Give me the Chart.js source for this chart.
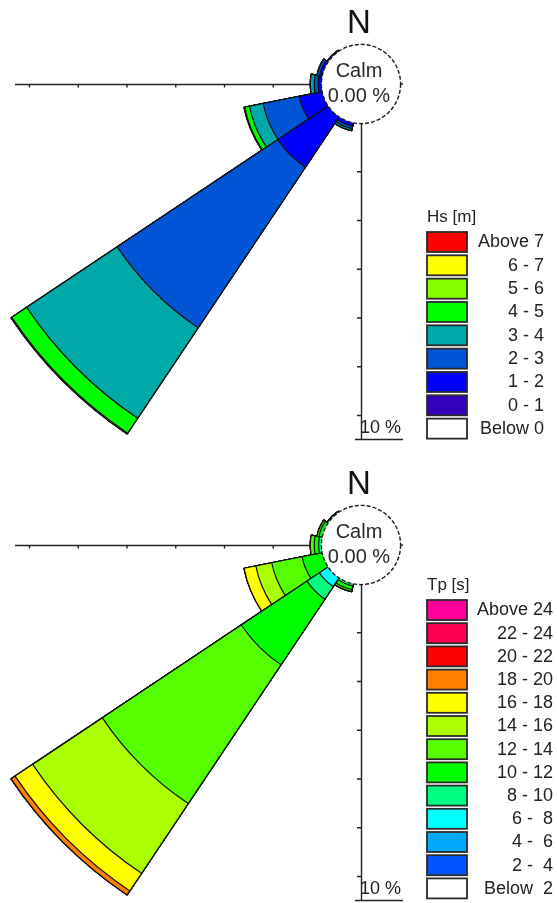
<!DOCTYPE html>
<html>
<head>
<meta charset="utf-8">
<script src="https://cdn.jsdelivr.net/npm/chart.js@4.4.1/dist/chart.umd.min.js"></script>
<style>
  html, body { margin: 0; padding: 0; background: #ffffff; overflow: hidden; }
  #wrap { position: relative; width: 557px; height: 903px; }
  canvas { position: absolute; left: 0; display: block; }
  #hsRose { top: 0; }
  #tpRose { top: 461px; }
</style>
</head>
<body>
<div id="wrap">
  <canvas id="hsRose" width="557" height="461"></canvas>
  <canvas id="tpRose" width="557" height="442"></canvas>
</div>
<script>
// ---------- DATA ----------
// 16 direction sectors (clockwise from North)
const directions = ['N','NNE','NE','ENE','E','ESE','SE','SSE','S','SSW','SW','WSW','W','WNW','NW','NNW'];

// Ring tick values (%) on the W and S axes, and the axis label
const ringTicks = [1.5, 3, 4.5, 6, 7.5, 9];
const axisLabel = '10 %';
const calmText = ['Calm', '0.00 %'];

// ---- Significant wave height Hs [m] : frequency (%) per direction, lowest class first
const hsTitle = 'Hs [m]';
const hsClasses = ['Below 0', '0 - 1', '1 - 2', '2 - 3', '3 - 4', '4 - 5', '5 - 6', '6 - 7', 'Above 7'];
const hsColors  = ['#FFFFFF', '#3300BB', '#0000FF', '#0055D5', '#00A8A8', '#00FF00', '#88FF00', '#FFFF00', '#FF0000'];
//                 N  NNE NE ENE E ESE SE SSE S  SSW   SW    WSW   W     WNW   NW    NNW
const hsBelow0 = [0, 0,  0, 0,  0, 0,  0, 0,  0, 0,    0,    0,    0,    0,    0,    0];
const hs0_1    = [0, 0,  0, 0,  0, 0,  0, 0,  0, 0,    0,    0,    0,    0,    0,    0];
const hs1_2    = [0, 0,  0, 0,  0, 0,  0, 0,  0, 0.12, 1.88, 0.74, 0.12, 0.10, 0.05, 0];
const hs2_3    = [0, 0,  0, 0,  0, 0,  0, 0,  0, 0.08, 5.94, 1.13, 0.12, 0.08, 0,    0];
const hs3_4    = [0, 0,  0, 0,  0, 0,  0, 0,  0, 0.06, 3.35, 0.43, 0.12, 0,    0,    0];
const hs4_5    = [0, 0,  0, 0,  0, 0,  0, 0,  0, 0,    0.55, 0.15, 0,    0,    0,    0];
const hs5_6    = [0, 0,  0, 0,  0, 0,  0, 0,  0, 0,    0.03, 0.02, 0,    0,    0,    0];
const hs6_7    = [0, 0,  0, 0,  0, 0,  0, 0,  0, 0,    0,    0,    0,    0,    0,    0];
const hsAbove7 = [0, 0,  0, 0,  0, 0,  0, 0,  0, 0,    0,    0,    0,    0,    0,    0];

// ---- Peak wave period Tp [s] : frequency (%) per direction, lowest class first
const tpTitle = 'Tp [s]';
const tpClasses = ['Below  2', '2 -  4', '4 -  6', '6 -  8', '8 - 10', '10 - 12', '12 - 14', '14 - 16', '16 - 18', '18 - 20', '20 - 22', '22 - 24', 'Above 24'];
const tpColors  = ['#FFFFFF', '#0055FF', '#00AAFF', '#00FFFF', '#00FF80', '#00FF00', '#55FF00', '#AAFF00', '#FFFF00', '#FF8000', '#FF0000', '#FF0050', '#FF0099'];
//                 N  NNE NE ENE E ESE SE SSE S  SSW   SW    WSW   W     WNW   NW    NNW
const tpBelow2 = [0, 0,  0, 0,  0, 0,  0, 0,  0, 0,    0,    0,    0,    0,    0,    0];
const tp2_4    = [0, 0,  0, 0,  0, 0,  0, 0,  0, 0,    0,    0,    0,    0,    0,    0];
const tp4_6    = [0, 0,  0, 0,  0, 0,  0, 0,  0, 0,    0,    0,    0,    0,    0,    0];
const tp6_8    = [0, 0,  0, 0,  0, 0,  0, 0,  0, 0,    0.34, 0,    0,    0,    0,    0];
const tp8_10   = [0, 0,  0, 0,  0, 0,  0, 0,  0, 0.08, 0.46, 0,    0.10, 0,    0,    0];
const tp10_12  = [0, 0,  0, 0,  0, 0,  0, 0,  0, 0.12, 2.43, 0.65, 0.14, 0.12, 0.05, 0];
const tp12_14  = [0, 0,  0, 0,  0, 0,  0, 0,  0, 0.06, 5.14, 0.95, 0.12, 0.06, 0,    0];
const tp14_16  = [0, 0,  0, 0,  0, 0,  0, 0,  0, 0,    2.58, 0.50, 0,    0,    0,    0];
const tp16_18  = [0, 0,  0, 0,  0, 0,  0, 0,  0, 0,    0.65, 0.37, 0,    0,    0,    0];
const tp18_20  = [0, 0,  0, 0,  0, 0,  0, 0,  0, 0,    0.15, 0,    0,    0,    0,    0];
const tp20_22  = [0, 0,  0, 0,  0, 0,  0, 0,  0, 0,    0,    0,    0,    0,    0,    0];
const tp22_24  = [0, 0,  0, 0,  0, 0,  0, 0,  0, 0,    0,    0,    0,    0,    0,    0];
const tpAbove24= [0, 0,  0, 0,  0, 0,  0, 0,  0, 0,    0,    0,    0,    0,    0,    0];

// ---------- LAYOUT / STYLE ----------
const CENTER_X = 361, CENTER_Y = 84;   // rose centre inside each canvas
const CALM_R = 39;                     // calm circle radius (px)
const PX_PER_PCT = 32.5;               // radial scale
const DRAW_R = 500;                    // scale drawing radius (px)
const WEST_AXIS_LEN = 346, SOUTH_AXIS_LEN = 355;
const FONT = '"Liberation Sans", Arial, Helvetica, sans-serif';

const rosePlugin = {
  id: 'rose',
  beforeDatasetsDraw(chart) {
    const s = chart.scales.r, ctx = chart.ctx;
    const cx = s.xCenter, cy = s.yCenter;
    const r0 = s.getDistanceFromCenterForValue(0);
    ctx.save();
    ctx.strokeStyle = '#222';
    ctx.lineWidth = 1.4;
    ctx.beginPath();
    ctx.moveTo(cx - WEST_AXIS_LEN, cy + 0.5); ctx.lineTo(cx - r0, cy + 0.5);
    ctx.moveTo(cx + 0.5, cy + r0); ctx.lineTo(cx + 0.5, cy + SOUTH_AXIS_LEN);
    ctx.moveTo(cx - 6, cy + SOUTH_AXIS_LEN + 0.5); ctx.lineTo(cx + 42, cy + SOUTH_AXIS_LEN + 0.5);
    ringTicks.forEach(v => {
      const d = s.getDistanceFromCenterForValue(v);
      ctx.moveTo(cx - d, cy); ctx.lineTo(cx - d, cy + 3.5);
      ctx.moveTo(cx, cy + d); ctx.lineTo(cx - 4, cy + d);
    });
    ctx.stroke();
    ctx.fillStyle = '#222';
    ctx.font = '18px ' + FONT;
    ctx.textAlign = 'left';
    ctx.textBaseline = 'alphabetic';
    ctx.fillText(axisLabel, cx - 1, cy + SOUTH_AXIS_LEN - 6);
    ctx.restore();
  },
  afterDatasetsDraw(chart) {
    const o = chart.options.plugins.rose;
    const s = chart.scales.r, ctx = chart.ctx;
    const cx = s.xCenter, cy = s.yCenter;
    const r0 = s.getDistanceFromCenterForValue(0);
    ctx.save();
    // calm circle
    ctx.beginPath();
    ctx.arc(cx, cy, r0 + 0.6, 0, Math.PI * 2);
    ctx.fillStyle = '#ffffff';
    ctx.fill();
    ctx.setLineDash([4, 2]);
    ctx.lineWidth = 1.4;
    ctx.strokeStyle = '#1a1a1a';
    ctx.stroke();
    ctx.setLineDash([]);
    ctx.beginPath();
    ctx.moveTo(cx + r0, cy); ctx.lineTo(cx + r0 + 3, cy);
    ctx.stroke();
    ctx.fillStyle = '#2a2a2a';
    ctx.textAlign = 'center';
    ctx.textBaseline = 'middle';
    ctx.font = '20px ' + FONT;
    ctx.fillText(calmText[0], cx - 2, cy - 13);
    ctx.fillText(calmText[1], cx - 2, cy + 12);
    // North label
    ctx.fillStyle = '#111';
    ctx.font = '33px ' + FONT;
    ctx.textBaseline = 'alphabetic';
    ctx.fillText('N', cx - 2, cy - 51);
    // legend
    ctx.textAlign = 'left';
    ctx.textBaseline = 'middle';
    ctx.font = '17px ' + FONT;
    ctx.fillStyle = '#222';
    ctx.fillText(o.title, o.legendX, o.titleY);
    const ds = chart.data.datasets;
    ctx.font = '18px ' + FONT;
    for (let i = 0; i < ds.length; i++) {
      const d = ds[ds.length - 1 - i];
      const y = o.boxTop + i * o.step;
      ctx.fillStyle = d.backgroundColor;
      ctx.fillRect(o.legendX, y, 40, 20);
      ctx.lineWidth = 1.8;
      ctx.strokeStyle = '#2a2a2a';
      ctx.strokeRect(o.legendX, y, 40, 20);
      ctx.fillStyle = '#222';
      ctx.textAlign = 'right';
      ctx.fillText(d.label, o.labelRight, y + 10.5);
    }
    ctx.restore();
  }
};

function makeRose(id, classes, colors, series, legend) {
  const cum = [];
  let acc = directions.map(() => 0);
  series.forEach(sv => { acc = acc.map((v, i) => +(v + sv[i]).toFixed(4)); cum.push(acc); });
  const datasets = classes.map((c, k) => ({
    label: c,
    data: cum[k],
    backgroundColor: colors[k],
    borderColor: '#101010',
    borderWidth: ctx => (ctx.raw > 0.0001 ? 1.2 : 0),
    clip: false
  }));
  const min = -CALM_R / PX_PER_PCT;
  return new Chart(document.getElementById(id), {
    type: 'polarArea',
    data: { labels: directions, datasets },
    options: {
      responsive: false,
      animation: false,
      events: [],
      layout: { padding: 0 },
      plugins: { legend: { display: false }, tooltip: { enabled: false }, rose: legend },
      scales: {
        r: {
          min: min,
          max: min + DRAW_R / PX_PER_PCT,
          beginAtZero: false,
          startAngle: -11.25,
          ticks: { display: false },
          grid: { display: false },
          angleLines: { display: false },
          pointLabels: { display: false },
          afterFit: sc => { sc.xCenter = CENTER_X; sc.yCenter = CENTER_Y; sc.drawingArea = DRAW_R; }
        }
      }
    },
    plugins: [rosePlugin]
  });
}

makeRose('hsRose', hsClasses, hsColors,
  [hsBelow0, hs0_1, hs1_2, hs2_3, hs3_4, hs4_5, hs5_6, hs6_7, hsAbove7],
  { title: hsTitle, legendX: 427, titleY: 217, boxTop: 232, step: 23.33, labelRight: 544 });

makeRose('tpRose', tpClasses, tpColors,
  [tpBelow2, tp2_4, tp4_6, tp6_8, tp8_10, tp10_12, tp12_14, tp14_16, tp16_18, tp18_20, tp20_22, tp22_24, tpAbove24],
  { title: tpTitle, legendX: 427, titleY: 124, boxTop: 139, step: 23.2, labelRight: 553 });
</script>
</body>
</html>
